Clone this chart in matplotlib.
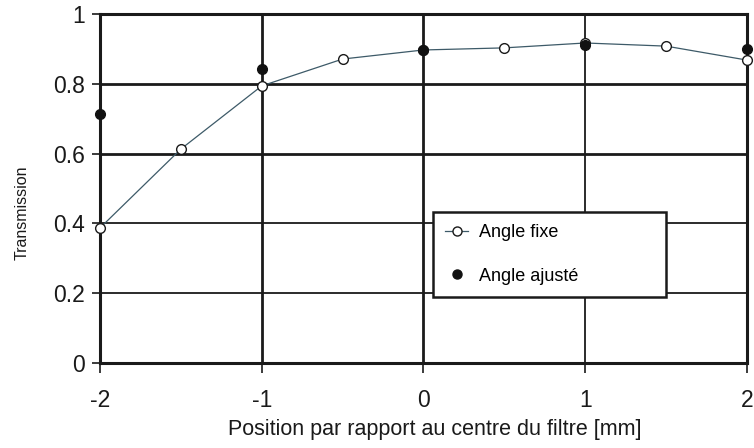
import matplotlib
matplotlib.use("Agg")
import matplotlib.pyplot as plt

plt.rcParams['font.family'] = ['Liberation Sans', 'DejaVu Sans']

pos_fixe = [-2, -1.5, -1, -0.5, 0, 0.5, 1, 1.5, 2]
trans_fixe = [0.387, 0.613, 0.794, 0.871, 0.897, 0.903, 0.917, 0.908, 0.868]
pos_ajuste = [-2, -1, 0, 1, 2]
trans_ajuste = [0.713, 0.842, 0.897, 0.911, 0.900]
xticks = [-2, -1, 0, 1, 2]
yticks = [0, 0.2, 0.4, 0.6, 0.8, 1]
ytick_labels = ['0', '0.2', '0.4', '0.6', '0.8', '1']

fig = plt.figure(figsize=(7.54, 4.48), dpi=100)
ax = fig.add_axes([0.1326, 0.1897, 0.8581, 0.7790])

vgrid_lw = {-1: 2.0, 0: 2.0, 1: 1.3}
hgrid_lw = {0.2: 1.3, 0.4: 1.3, 0.6: 2.0, 0.8: 2.0}
for x in xticks[1:-1]:
    ax.axvline(x, color='#1a1a1a', lw=vgrid_lw.get(x, 1.6), zorder=1)
for y in yticks[1:-1]:
    ax.axhline(y, color='#1a1a1a', lw=hgrid_lw.get(y, 1.6), zorder=1)

ax.plot(pos_fixe, trans_fixe, color='#3d5a68', lw=0.9, marker='o', ms=7.0,
        mfc='white', mec='#1a1a1a', mew=1.0, label='Angle fixe', zorder=3,
        clip_on=False)
ax.plot(pos_ajuste, trans_ajuste, ls='none', marker='o', ms=7.0,
        mfc='#111111', mec='#111111', label='Angle ajusté', zorder=4,
        clip_on=False)

ax.set_xlim(-2, 2)
ax.set_ylim(0, 1)
ax.set_xticks(xticks)
ax.set_xticklabels([str(t) for t in xticks])
ax.set_yticks(yticks)
ax.set_yticklabels(ytick_labels)
ax.tick_params(axis='both', direction='out', width=1.2, labelsize=16.5,
               color='#1a1a1a', labelcolor='#1a1a1a')
ax.tick_params(axis='x', length=7, pad=12)
ax.tick_params(axis='y', length=6, pad=5)
for s in ax.spines.values():
    s.set_linewidth(2.2)
    s.set_color('#1a1a1a')

ax.set_xlabel('Position par rapport au centre du filtre [mm]', fontsize=15.5,
              color='#1a1a1a')
ax.xaxis.set_label_coords(0.518, -0.16)
ax.set_ylabel('Transmission', fontsize=11.5, color='#1a1a1a')
ax.yaxis.set_label_coords(-0.108, 0.43)

leg = ax.legend(loc='lower left', bbox_to_anchor=(0.515, 0.189, 0.36, 0.24),
                mode='expand', fontsize=13, frameon=True, fancybox=False,
                labelspacing=1.48, borderpad=0.68, handlelength=1.25,
                handletextpad=0.6, borderaxespad=0)
leg.get_frame().set_edgecolor('#1a1a1a')
leg.get_frame().set_linewidth(1.8)
leg.get_frame().set_alpha(1)
leg.set_zorder(5)
for h in leg.get_lines():
    h.set_markersize(6.5)

fig.savefig('out.png', dpi=100)
